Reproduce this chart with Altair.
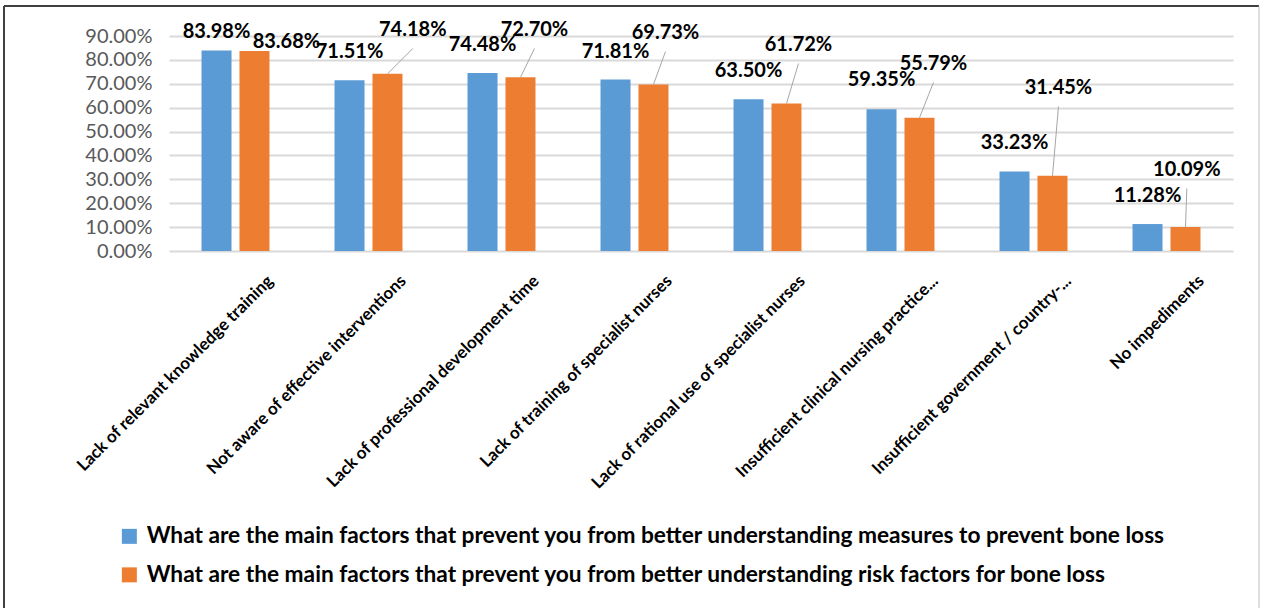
import altair as alt
import pandas as pd

# ---------------- data ----------------
categories = [
    "Lack of relevant knowledge training",
    "Not aware of effective interventions",
    "Lack of professional development time",
    "Lack of training of specialist nurses",
    "Lack of rational use of specialist nurses",
    "Insufficient clinical nursing practice...",
    "Insufficient government / country-...",
    "No impediments",
]
series = [
    "What are the main factors that prevent you from better understanding measures to prevent bone loss",
    "What are the main factors that prevent you from better understanding risk factors for bone loss",
]
measures = [0.8398, 0.7151, 0.7448, 0.7181, 0.6350, 0.5935, 0.3323, 0.1128]
risk = [0.8368, 0.7418, 0.7270, 0.6973, 0.6172, 0.5579, 0.3145, 0.1009]
colors = ["#5B9BD5", "#ED7D31"]
y_ticks = [0.0, 0.1, 0.2, 0.3, 0.4, 0.5, 0.6, 0.7, 0.8, 0.9]

# label placement as dragged in the original (lift in value units, shift in category steps)
measures_lift = [0.077, 0.118, 0.117, 0.115, 0.118, 0.122, 0.120, 0.117]
risk_lift = [0.038, 0.183, 0.198, 0.215, 0.245, 0.225, 0.368, 0.238]
risk_shift = [0.24, 0.19, 0.105, 0.09, 0.09, 0.105, 0.045, 0.01]
risk_leader = [False, True, True, True, True, True, True, True]

# ---------------- layout constants ----------------
W, H = 1064, 215
BAR_OFF = 19 / 133.0          # bar centre offset from category centre, in category steps
LEADER_GAP = 18.5 / (H / 0.9)  # gap below label centre, in value units
FONT = "Lato"

bars = pd.DataFrame(
    [{"category": c, "series": series[0], "value": v} for c, v in zip(categories, measures)]
    + [{"category": c, "series": series[1], "value": v} for c, v in zip(categories, risk)]
)

lab_rows = []
lead_rows = []
for i, c in enumerate(categories):
    lab_rows.append({"lx": i + 0.5 - BAR_OFF, "ly": measures[i] + measures_lift[i],
                     "text": f"{measures[i]*100:.2f}%"})
    lx = i + 0.5 + BAR_OFF + risk_shift[i]
    ly = risk[i] + risk_lift[i]
    lab_rows.append({"lx": lx, "ly": ly, "text": f"{risk[i]*100:.2f}%"})
    if risk_leader[i]:
        lead_rows.append({"x0": i + 0.5 + BAR_OFF, "y0": risk[i], "x1": lx, "y1": ly - LEADER_GAP})
labels = pd.DataFrame(lab_rows)
leaders = pd.DataFrame(lead_rows)

yscale = alt.Scale(domain=[0, 0.9], nice=False)
qx = alt.Scale(domain=[0, 8], nice=False, zero=False)

bar_layer = alt.Chart(bars).mark_bar().encode(
    x=alt.X(
        "category:N", sort=categories,
        scale=alt.Scale(paddingInner=0.489, paddingOuter=0.2445),
        axis=alt.Axis(
            title=None, labelAngle=-45, labelAlign="right", labelBaseline="middle",
            labelOffset=35, labelPadding=27, labelFont=FONT, labelFontWeight="bold",
            labelFontSize=17, labelColor="#000000", labelLimit=0, labelOverlap=False,
            labelBound=False, domain=False, ticks=False, grid=False,
        ),
    ),
    xOffset=alt.XOffset("series:N", sort=series, scale=alt.Scale(paddingInner=0.21, paddingOuter=0)),
    y=alt.Y(
        "value:Q", scale=yscale,
        axis=alt.Axis(
            title=None, values=y_ticks, format=".2%", grid=True, gridColor="#D9D9D9",
            gridWidth=2, domain=False, ticks=False, labelFont=FONT, labelFontSize=20,
            labelColor="#595959", labelPadding=17, labelOverlap=False, labelBound=False,
            labelFlush=False,
        ),
    ),
    color=alt.Color(
        "series:N", sort=series, scale=alt.Scale(domain=series, range=colors),
        legend=alt.Legend(
            title=None, orient="none", legendX=-51, legendY=489, direction="vertical",
            symbolType="square", symbolSize=225, symbolStrokeWidth=0, symbolOpacity=1,
            labelFont=FONT, labelFontWeight="bold", labelFontSize=22.7, labelColor="#000000",
            labelLimit=0, labelOffset=6, rowPadding=14.5,
        ),
    ),
)

leader_layer = alt.Chart(leaders).mark_rule(color="#A6A6A6", strokeWidth=1).encode(
    x=alt.X("x0:Q", scale=qx, axis=None),
    x2="x1:Q",
    y=alt.Y("y0:Q", scale=yscale, axis=None),
    y2="y1:Q",
)

text_layer = alt.Chart(labels).mark_text(
    font=FONT, fontWeight="bold", fontSize=20, color="#000000", align="center", baseline="middle"
).encode(
    x=alt.X("lx:Q", scale=qx, axis=None),
    y=alt.Y("ly:Q", scale=yscale, axis=None),
    text="text:N",
)

frame = pd.DataFrame({"k": [0]})
left_border = alt.Chart(frame).mark_rule(color="#404040", strokeWidth=2).encode(
    x=alt.value(-165), y=alt.value(-30), y2=alt.value(600))
top_border = alt.Chart(frame).mark_rule(color="#404040", strokeWidth=2).encode(
    x=alt.value(-165), x2=alt.value(1090), y=alt.value(-30))
right_border = alt.Chart(frame).mark_rule(color="#BFBFBF", strokeWidth=1).encode(
    x=alt.value(1090), y=alt.value(-30), y2=alt.value(600))

chart = (
    alt.layer(bar_layer, leader_layer, text_layer, left_border, top_border, right_border)
    .resolve_scale(x="independent")
    .resolve_axis(x="independent", y="independent")
    .properties(
        width=W, height=H,
        padding={"left": 169, "top": 36, "right": 28, "bottom": 357},
        autosize=alt.AutoSizeParams(type="none"),
        background="#FFFFFF",
    )
    .configure_view(stroke=None)
)

chart.save("out.html", embed_options={"renderer": "svg", "actions": False})
